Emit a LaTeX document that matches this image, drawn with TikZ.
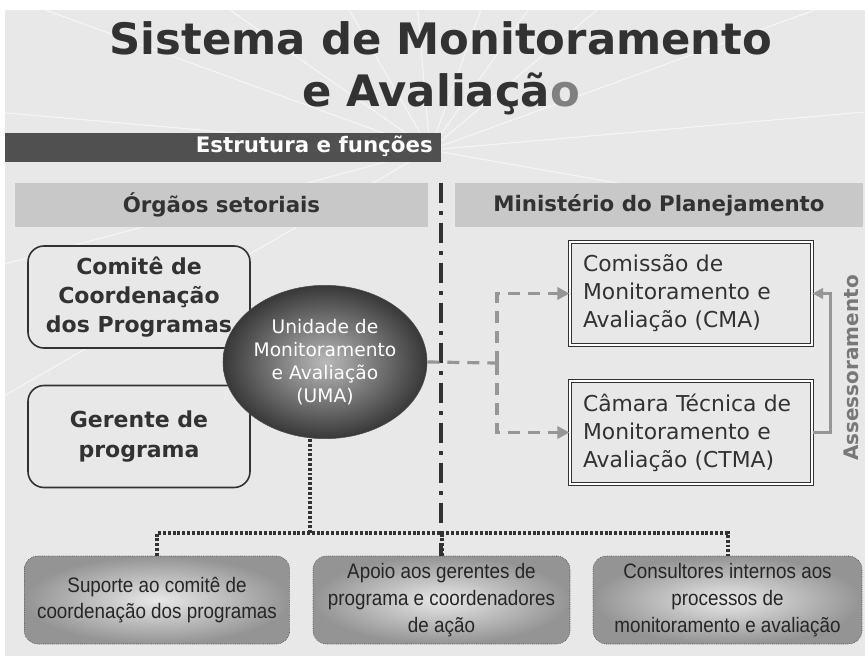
\documentclass[tikz,border=0pt]{standalone}
\usepackage{fontspec}
\setmainfont{DejaVu Sans}
\newfontfamily\narrowfont[FakeStretch=0.9]{Liberation Sans}
\usetikzlibrary{calc,positioning,arrows.meta,shapes.geometric}
\usepackage{xcolor}
\definecolor{bgcol}{RGB}{232,232,232}
\definecolor{barcol}{RGB}{80,80,80}
\definecolor{headcol}{RGB}{200,200,200}
\definecolor{inkcol}{RGB}{50,50,50}
\definecolor{dashcol}{RGB}{150,150,150}
\definecolor{assesscol}{RGB}{120,120,120}

\tikzset{
    header/.style={fill=headcol, inner sep=0pt, minimum height=33pt, font=\bfseries\fontsize{16}{19}\selectfont, text=inkcol},
    orgbox/.style={draw=inkcol, line width=1.2pt, rounded corners=12pt, fill=bgcol, minimum width=166.5pt, minimum height=76.5pt, align=center, font=\bfseries\fontsize{16.5}{22}\selectfont, text=inkcol},
    minbox/.style={draw=inkcol, double=white, double distance=1.2pt, line width=0.8pt, fill=bgcol, minimum width=181.5pt, minimum height=77.25pt, text width=162pt, align=left, font=\fontsize{16.4}{21}\selectfont, text=inkcol},
    funcbox/.style={draw=inkcol, densely dotted, thin, rounded corners=10pt, shade, inner color=gray!18, outer color=black!42, minimum height=66pt, align=center, font=\narrowfont\fontsize{15.7}{20}\selectfont, text=black!85},
    dashconn/.style={dashcol, line width=2.4pt, dash pattern=on 9pt off 6pt, -{Triangle[length=9pt,width=9pt]}},
    dotconn/.style={inkcol, line width=3pt, dash pattern=on 2.2pt off 1.4pt}
}

\begin{document}
\begin{tikzpicture}[x=0.75pt,y=-0.75pt]
    \useasboundingbox (0,0) rectangle (865,656);
    \fill[white] (0,0) rectangle (865,656);
    \fill[bgcol] (5,10) rectangle (865,656);

    % faint rays in the background
    \begin{scope}
        \clip (5,10) rectangle (865,656);
        \foreach \a in {150,165,185,200,215,240,265,290,305,320,340,355,10} {
            \draw[white, line width=0.8pt, opacity=0.6] (430,150) -- ++(\a:700);
        };
    \end{scope}

    % Title
    \node[anchor=base, font=\bfseries\fontsize{32.5}{36}\selectfont, text=inkcol] (title1) at (441,55) {Sistema de Monitoramento};
    \node[anchor=base, font=\bfseries\fontsize{32.5}{36}\selectfont, text=inkcol] (title2) at (441,107) {e Avaliaçã{\color{gray}o}};

    % Bar
    \fill[barcol] (5,133) rectangle (441,162);
    \node[anchor=base east, inner sep=0pt, text=white, font=\bfseries\fontsize{16}{19}\selectfont] (estrutura) at (433,153) {Estrutura e funções};

    % Column headers
    \node[header, minimum width=309.75pt] (orgaos) at (221.5,205) {Órgãos setoriais};
    \node[header, minimum width=306pt] (minist) at (659,205) {Ministério do Planejamento};

    % Dividing line
    \draw[inkcol, line width=3pt, dash pattern=on 15pt off 6pt on 3pt off 6pt] (441,183) -- (441,640);

    % Sector boxes
    \node[orgbox] (comite) at (139,297) {Comitê de\\Coordenação\\dos Programas};
    \node[orgbox] (gerente) at (139,436.5) {Gerente de\\programa};

    % UMA
    \node[ellipse, draw=black!70, shade, inner color=gray!55, outer color=black!78, minimum width=153pt, minimum height=115pt, inner sep=0pt, align=center, text=white, font=\fontsize{14}{17.3}\selectfont] (uma) at (325,362) {Unidade de\\Monitoramento\\e Avaliação\\(UMA)};

    % Ministry boxes
    \node[minbox] (cma) at (691,293.5) {Comissão de\\Monitoramento e\\Avaliação (CMA)};
    \node[minbox] (ctma) at (691,432.5) {Câmara Técnica de\\Monitoramento e\\Avaliação (CTMA)};

    % UMA to ministry
    \coordinate (split) at (497,363);
    \draw[dashconn, -] (uma.east) -- (split);
    \draw[dashconn] (split) |- (cma.west);
    \draw[dashconn] (split) |- (ctma.west);

    % Assessoramento
    \draw[dashcol, line width=1.6pt, -{Triangle[length=8pt,width=8pt]}] (ctma.east) -- ++(18,0) |- (cma.east);
    \node[rotate=90, text=assesscol, font=\bfseries\fontsize{15}{18}\selectfont] (assess) at (851,368) {Assessoramento};

    % Functions
    \node[funcbox, minimum width=199pt] (suporte) at (157,600) {Suporte ao comitê de\\coordenação dos programas};
    \node[funcbox, minimum width=192.75pt] (apoio) at (441.5,600) {Apoio aos gerentes de\\programa e coordenadores\\de ação};
    \node[funcbox, minimum width=201.75pt] (consult) at (727.5,600) {Consultores internos aos\\processos de\\monitoramento e avaliação};

    \coordinate (hub) at (310,533);
    \draw[dotconn] (hub |- uma.south) -- (hub);
    \draw[dotconn] (suporte.north) |- (hub) -| (consult.north);
    \draw[dotconn] (apoio.north) -- (apoio.north |- hub);
\end{tikzpicture}
\end{document}
